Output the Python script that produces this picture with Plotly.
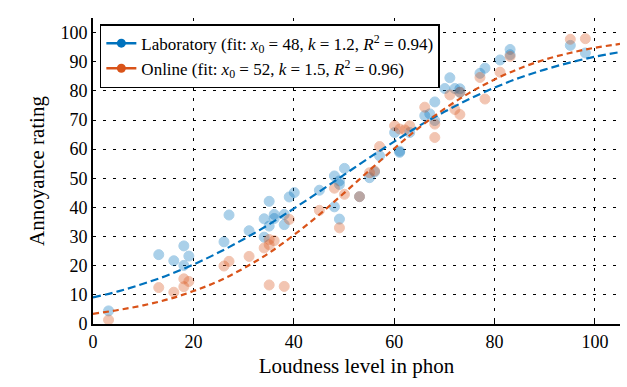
import plotly.graph_objects as go

# Laboratory ratings
lab_x = [3.1, 13.1, 16.1, 18.1, 18.1, 19.1, 26.1, 27.1, 31.1, 34.1, 34.1, 35.1, 35.1,
         36.1, 36.1, 38.1, 38.1, 39.1, 40.1, 45.1, 48.1, 48.1, 49.1, 49.1, 49.1, 50.1,
         53.1, 55.1, 56.1, 57.1, 60.1, 61.1, 61.1, 63.1, 66.1, 67.1, 68.1, 68.1, 70.1,
         71.1, 72.1, 73.1, 73.1, 77.1, 78.1, 81.1, 83.1, 83.1, 95.1, 98.1]
lab_y = [4.5, 23.8, 21.7, 26.8, 20.1, 23.3, 28.2, 37.4, 32.0, 36.1, 29.8, 42.1, 33.6,
         37.6, 36.2, 37.6, 34.1, 43.6, 45.1, 45.9, 50.8, 40.2, 49.1, 47.9, 36.0, 53.4,
         43.7, 50.2, 52.2, 57.7, 65.7, 58.9, 59.3, 65.7, 71.5, 72.1, 76.2, 69.8, 80.8,
         84.5, 80.8, 80.7, 79.5, 86.0, 87.8, 90.6, 94.2, 92.4, 95.6, 93.0]

# Online ratings
onl_x = [3.1, 13.1, 16.1, 18.1, 18.1, 19.1, 26.1, 27.1, 31.1, 34.1, 35.1, 35.1, 35.1,
         36.1, 38.1, 39.1, 45.1, 48.1, 49.1, 50.1, 53.1, 55.1, 56.1, 57.1, 60.1, 61.1,
         62.1, 63.1, 66.1, 68.1, 68.1, 71.1, 72.1, 73.1, 73.1, 77.1, 78.1, 81.1, 83.1,
         95.1, 98.1]
onl_y = [1.4, 12.5, 10.9, 15.5, 12.8, 14.6, 19.9, 21.5, 23.2, 26.1, 29.0, 27.2, 13.4,
         28.6, 12.9, 35.9, 39.0, 46.6, 33.0, 44.5, 43.7, 51.9, 52.5, 60.9, 68.0, 66.9,
         66.6, 68.0, 74.4, 68.6, 64.0, 78.6, 73.6, 79.5, 71.9, 84.6, 77.2, 86.4, 91.8,
         97.7, 97.9]

# Fitted curves
fit_x = [0, 5, 10, 15, 20, 25, 30, 35, 40, 45, 50, 55, 60, 65, 70, 75, 80, 85, 90, 95, 100, 105]
fit_lab = [9.1, 11.2, 13.8, 16.8, 20.4, 24.5, 29.1, 34.1, 39.6, 45.3, 51.2, 57.0, 62.6,
           68.0, 72.8, 77.2, 81.1, 84.5, 87.3, 89.7, 91.7, 93.3]
fit_onl = [3.5, 4.8, 6.4, 8.5, 11.3, 14.7, 19.1, 24.3, 30.5, 37.4, 44.9, 52.6, 60.2,
           67.4, 73.8, 79.3, 83.9, 87.7, 90.7, 93.0, 94.8, 96.1]

lab_name = "Laboratory (fit: <i>x</i><sub>0</sub> = 48, <i>k</i> = 1.2, <i>R</i><sup>2</sup> = 0.94)"
onl_name = "Online (fit: <i>x</i><sub>0</sub> = 52, <i>k</i> = 1.5, <i>R</i><sup>2</sup> = 0.96)"

x_ticks = [0, 20, 40, 60, 80, 100]
y_ticks = [0, 10, 20, 30, 40, 50, 60, 70, 80, 90, 100]

BLUE = "#0072BD"
ORANGE = "#D95319"
FONT = "Liberation Serif"

fig = go.Figure()

fig.add_trace(go.Scatter(x=lab_x, y=lab_y, mode="markers", showlegend=False,
                         marker=dict(size=10, color=BLUE, opacity=0.33,
                                     line=dict(width=1, color=BLUE))))
fig.add_trace(go.Scatter(x=onl_x, y=onl_y, mode="markers", showlegend=False,
                         marker=dict(size=10, color=ORANGE, opacity=0.33,
                                     line=dict(width=1, color=ORANGE))))
fig.add_trace(go.Scatter(x=fit_x, y=fit_lab, mode="lines", showlegend=False,
                         line=dict(color=BLUE, width=2.2, dash="8px,4px", shape="spline")))
fig.add_trace(go.Scatter(x=fit_x, y=fit_onl, mode="lines", showlegend=False,
                         line=dict(color=ORANGE, width=2.2, dash="6px,4px", shape="spline")))

# legend entries
fig.add_trace(go.Scatter(x=[None], y=[None], mode="lines+markers", name=lab_name,
                         line=dict(color=BLUE, width=2.5), marker=dict(size=9, color=BLUE)))
fig.add_trace(go.Scatter(x=[None], y=[None], mode="lines+markers", name=onl_name,
                         line=dict(color=ORANGE, width=2.5), marker=dict(size=9, color=ORANGE)))

fig.update_layout(
    width=627, height=387,
    margin=dict(l=93, r=7, t=18, b=63),
    paper_bgcolor="white", plot_bgcolor="white",
    font=dict(family=FONT, size=18, color="black"),
    legend=dict(x=0.013, y=0.98, xanchor="left", yanchor="top",
                bgcolor="white", bordercolor="black", borderwidth=1.5,
                font=dict(family=FONT, size=17), itemwidth=30,
                tracegroupgap=0, traceorder="normal"),
    xaxis=dict(range=[0, 105], tickvals=x_ticks, ticktext=[str(v) for v in x_ticks],
               showline=True, linecolor="black", linewidth=2, mirror=False,
               showgrid=True, gridcolor="black", gridwidth=1.2, griddash="3px,7px",
               zeroline=False, ticks="inside", ticklen=3, tickcolor="black",
               title=dict(text="Loudness level in phon", font=dict(size=21), standoff=8),
               tickfont=dict(size=18)),
    yaxis=dict(range=[0, 105], tickvals=y_ticks, ticktext=[str(v) for v in y_ticks],
               showline=True, linecolor="black", linewidth=2, mirror=False,
               showgrid=True, gridcolor="black", gridwidth=1.2, griddash="3px,7px",
               zeroline=False, ticks="inside", ticklen=3, tickcolor="black",
               title=dict(text="Annoyance rating", font=dict(size=21), standoff=10),
               tickfont=dict(size=18)),
)

fig.write_html("out.html")
